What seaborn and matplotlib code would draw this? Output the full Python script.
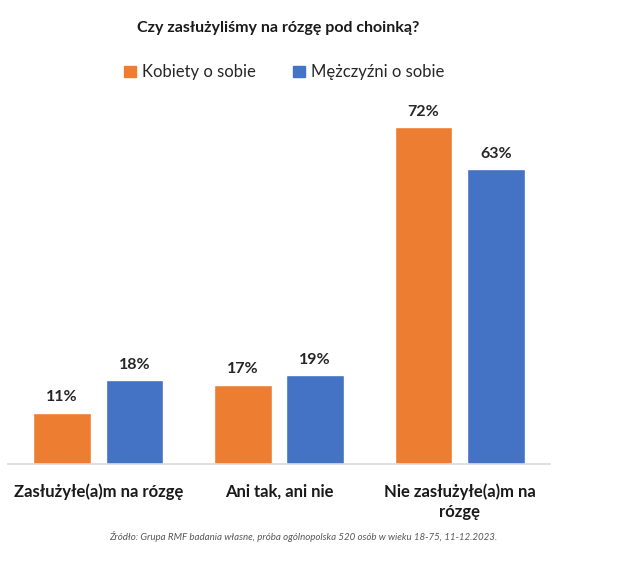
import pandas as pd
import seaborn as sns
import matplotlib.pyplot as plt

# --- data ---
categories = ["Zasłużyłe(a)m na rózgę", "Ani tak, ani nie", "Nie zasłużyłe(a)m na\nrózgę"]
series = ["Kobiety o sobie", "Mężczyźni o sobie"]
women = [11, 17, 72]
men = [18, 19, 63]
colors = ["#ED7D31", "#4472C4"]

df = pd.DataFrame({
    "category": categories * 2,
    "series": [series[0]] * 3 + [series[1]] * 3,
    "value": women + men,
})

sns.set_style("white")
plt.rcParams['font.family'] = ['Lato', 'DejaVu Sans']

fig = plt.figure(figsize=(6.25, 5.73), dpi=100)
ax = fig.add_axes([0.0128, 0.190, 0.867, 0.653])

sns.barplot(data=df, x="category", y="value", hue="series",
            palette=colors, saturation=1, width=0.8, gap=0.2, ax=ax, legend=False)

# value labels
for cont in ax.containers:
    ax.bar_label(cont, labels=[f"{v:.0f}%" for v in cont.datavalues],
                 padding=6, fontsize=11.5, fontweight="bold", color="#262626")

ax.set_xlim(-0.5, 2.5)
ax.set_ylim(0, 80)
ax.set_yticks([])
ax.set_xlabel("")
ax.set_ylabel("")
for s in ["top", "right", "left"]:
    ax.spines[s].set_visible(False)
ax.spines["bottom"].set_color("#d9d9d9")
ax.spines["bottom"].set_linewidth(1.2)
ax.tick_params(axis="x", length=0, pad=14)
for lbl in ax.get_xticklabels():
    lbl.set_fontsize(12)
    lbl.set_fontweight("bold")
    lbl.set_color("#1a1a1a")
    lbl.set_verticalalignment("top")
    lbl.set_linespacing(1.3)

fig.text(0.445, 0.952, "Czy zasłużyliśmy na rózgę pod choinką?", ha="center",
         va="center", fontsize=11.5, fontweight="bold", color="#1a1a1a")

handles = [plt.Rectangle((0, 0), 1, 1, color=c) for c in colors]
fig.legend(handles, series, loc="center", bbox_to_anchor=(0.455, 0.874), ncol=2,
           frameon=False, fontsize=12, handlelength=0.7, handleheight=0.7,
           handletextpad=0.4, columnspacing=2.2)

fig.text(0.485, 0.063,
         "Źródło: Grupa RMF badania własne, próba ogólnopolska 520 osób w wieku 18-75, 11-12.2023.",
         ha="center", va="center", fontsize=7, style="italic", color="#595959")

fig.savefig("out.png", dpi=100, facecolor="white")
